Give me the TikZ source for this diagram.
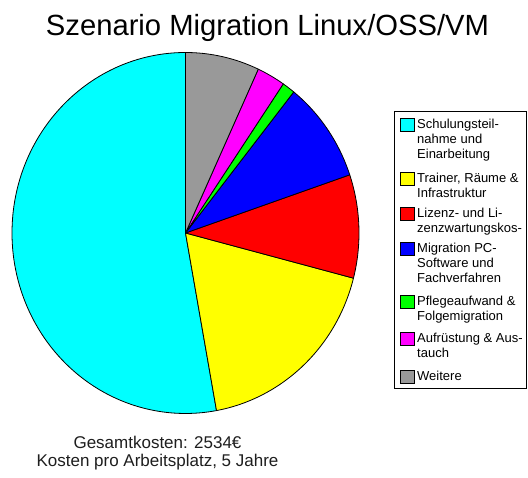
\documentclass[tikz,border=0pt]{standalone}
\usepackage{fontspec}
\setmainfont{Liberation Sans}
\definecolor{pcyan}{RGB}{0,255,255}
\definecolor{pyellow}{RGB}{255,255,0}
\definecolor{pred}{RGB}{255,0,0}
\definecolor{pblue}{RGB}{0,0,255}
\definecolor{pgreen}{RGB}{0,255,0}
\definecolor{pmagenta}{RGB}{255,0,255}
\definecolor{pgray}{RGB}{153,153,153}
\definecolor{captext}{RGB}{30,30,30}
\tikzset{
  sector/.style={draw=black, line width=0.8pt, line join=round},
  swatch/.style={draw=black, line width=0.8pt},
  legtext/.style={anchor=north west, inner sep=0pt, align=left,
    font=\fontsize{13}{14.7}\selectfont},
  caption/.style={anchor=base, inner sep=0pt, text=captext, font=\fontsize{17}{19}\selectfont},
}
\newcommand{\pieslice}[3]{%
  \filldraw[sector, fill=#1] (C) -- ++(#2:173.5 and 180.5)
    arc[start angle=#2, end angle=#3, x radius=173.5, y radius=180.5] -- cycle;}
\begin{document}
\begin{tikzpicture}[x=1pt,y=1pt]
\useasboundingbox (0,0) rectangle (528,478);
\fill[white] (0,0) rectangle (528,478);
\coordinate (C) at (185.5,245);
% pie
\pieslice{pcyan}{90}{280.3}
\pieslice{pyellow}{-79.7}{-14.5}
\pieslice{pred}{-14.5}{18.8}
\pieslice{pblue}{18.8}{51.4}
\pieslice{pgreen}{51.4}{55.7}
\pieslice{pmagenta}{55.7}{65.2}
\pieslice{pgray}{65.2}{90}
% title
\node[anchor=base, inner sep=0pt, font=\fontsize{29.2}{34}\selectfont] (title) at (267.5,442) {Szenario Migration Linux/OSS/VM};
% captions
\node[caption] (cap1) at (157.5,29) {Gesamtkosten: 2534€};
\node[caption] (cap2) at (157.5,11.5) {Kosten pro Arbeitsplatz, 5 Jahre};
% legend
\draw[line width=0.8pt] (394,367) rectangle (526,90);
\draw[swatch, fill=pcyan]    (400,360) rectangle (414,347);
\draw[swatch, fill=pyellow]  (400,306) rectangle (414,293);
\draw[swatch, fill=pred]     (400,271) rectangle (414,258);
\draw[swatch, fill=pblue]    (400,236) rectangle (414,223);
\draw[swatch, fill=pgreen]   (400,183) rectangle (414,170);
\draw[swatch, fill=pmagenta] (400,146) rectangle (414,133);
\draw[swatch, fill=pgray]    (400,108) rectangle (414,95);
\node[legtext] (l1) at (417,359) {Schulungsteil-\\nahme und\\Einarbeitung};
\node[legtext] (l2) at (417,305) {Trainer, Räume \&\\Infrastruktur};
\node[legtext] (l3) at (417,270) {Lizenz- und Li-\\zenzwartungskos-};
\node[legtext] (l4) at (417,235) {Migration PC-\\Software und\\Fachverfahren};
\node[legtext] (l5) at (417,182) {Pflegeaufwand \&\\Folgemigration};
\node[legtext] (l6) at (417,145) {Aufrüstung \& Aus-\\tauch};
\node[legtext] (l7) at (417,107) {Weitere};
\end{tikzpicture}
\end{document}
